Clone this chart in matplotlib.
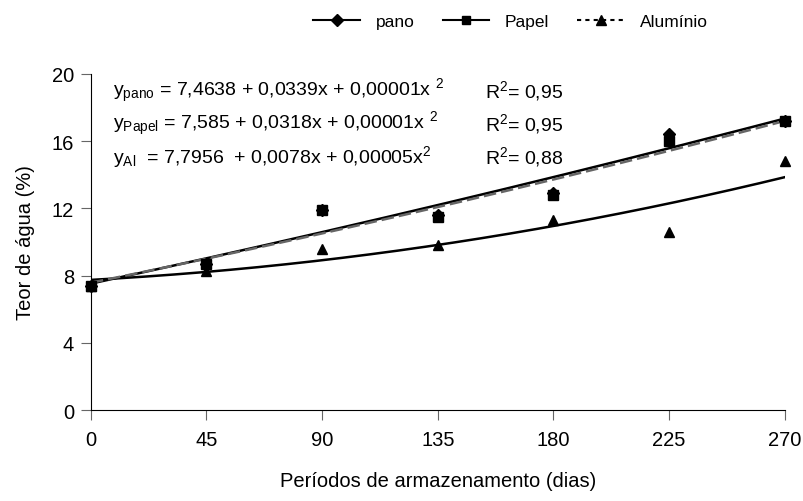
import numpy as np
import matplotlib.pyplot as plt
from matplotlib.lines import Line2D

plt.rcParams['font.family'] = ['Liberation Sans', 'DejaVu Sans']
plt.rcParams['mathtext.fontset'] = 'custom'
plt.rcParams['mathtext.rm'] = 'Liberation Sans'
plt.rcParams['mathtext.it'] = 'Liberation Sans'

# dias de armazenamento
dias = [0, 45, 90, 135, 180, 225, 270]
pano = [7.4, 8.7, 11.9, 11.6, 12.9, 16.4, 17.2]
papel = [7.4, 8.7, 11.9, 11.5, 12.8, 16.0, 17.2]
aluminio = [7.4, 8.3, 9.6, 9.8, 11.3, 10.6, 14.8]

eq_labels = [r'y$_{\mathregular{pano}}$ = 7,4638 + 0,0339x + 0,00001x $^{\mathregular{2}}$',
             r'y$_{\mathregular{Papel}}$ = 7,585 + 0,0318x + 0,00001x $^{\mathregular{2}}$',
             r'y$_{\mathregular{Al}}$  = 7,7956  + 0,0078x + 0,00005x$^{\mathregular{2}}$']
r2_labels = [r'R$^{\mathregular{2}}$= 0,95', r'R$^{\mathregular{2}}$= 0,95', r'R$^{\mathregular{2}}$= 0,88']

fig = plt.figure(figsize=(8.04, 5.02), dpi=100)
ax = fig.add_axes([0.113, 0.181, 0.863, 0.670])

# linhas de tendencia (polinomio de 2o grau)
xx = np.linspace(0, 270, 200)
fit_pano = np.polyval(np.polyfit(dias, pano, 2), xx)
fit_papel = np.polyval(np.polyfit(dias, papel, 2), xx)
fit_al = np.polyval(np.polyfit(dias, aluminio, 2), xx)

ax.plot(xx, fit_al, color='black', lw=1.8)
ax.plot(xx, fit_pano, color='black', lw=1.8)
ax.plot(xx, fit_papel, color='#666666', lw=1.8, ls=(0, (5, 2)))

ax.plot(dias, aluminio, ls='none', marker='^', color='black', ms=7, clip_on=False)
ax.plot(dias, pano, ls='none', marker='D', color='black', ms=6, clip_on=False)
ax.plot(dias, papel, ls='none', marker='s', color='black', ms=6.5, clip_on=False)

ax.set_xlim(0, 270)
ax.set_ylim(0, 20)
ax.set_xticks(dias)
ax.set_yticks([0, 4, 8, 12, 16, 20])
ax.spines['top'].set_visible(False)
ax.spines['right'].set_visible(False)
ax.tick_params(labelsize=14.5, length=7, color='#666666')
ax.tick_params(axis='x', pad=7)
ax.tick_params(axis='y', pad=5)
ax.set_xlabel('Períodos de armazenamento (dias)', fontsize=14.5, labelpad=16)
ax.set_ylabel('Teor de água (%)', fontsize=14.5, labelpad=12)

for i in range(3):
    ax.text(0.032, 0.952 - i*0.099, eq_labels[i], transform=ax.transAxes, fontsize=14, va='center')
    ax.text(0.568, 0.952 - i*0.099, r2_labels[i], transform=ax.transAxes, fontsize=14, va='center')

handles = [Line2D([], [], color='black', marker='D', ms=6, lw=1.5),
           Line2D([], [], color='black', marker='s', ms=6, lw=1.5),
           Line2D([], [], color='black', marker='^', ms=7, lw=1.5, ls=(0, (2, 2)))]
fig.legend(handles, ['pano', 'Papel', 'Alumínio'], loc='center', bbox_to_anchor=(0.635, 0.955),
           ncol=3, frameon=False, fontsize=12.5, handlelength=2.7, columnspacing=1.6, handletextpad=0.9)

fig.savefig('out.png', dpi=100)
